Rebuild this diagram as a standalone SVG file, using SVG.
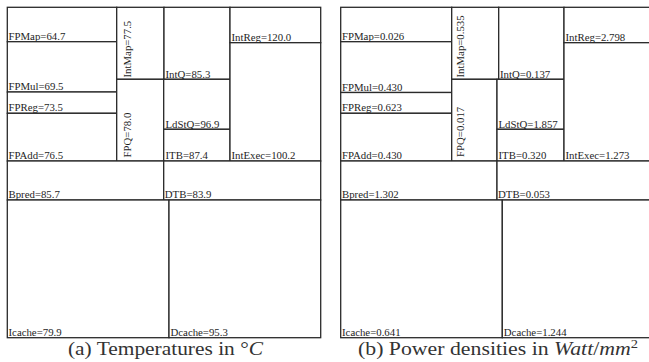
<svg xmlns="http://www.w3.org/2000/svg" width="649" height="362" viewBox="0 0 649 362">
<style>
.b{fill:#fff;stroke:#2a2a2a;stroke-width:1.3}
.l{font-family:"Liberation Serif","Times New Roman",serif;font-size:10.8px;fill:#1e1e1e}
.c{font-family:"Liberation Serif","Times New Roman",serif;font-size:18px;fill:#333}
.i{font-style:italic}
</style>
<rect width="649" height="362" fill="#fff"/>
<g id="panelA">
<g id="a-FPMap"><rect class="b" x="7.3" y="7.3" width="109.4" height="34.4"/><text class="l" x="8.5" y="39.8">FPMap=64.7</text></g>
<g id="a-FPMul"><rect class="b" x="7.3" y="41.7" width="109.4" height="50.3"/><text class="l" x="8.5" y="90">FPMul=69.5</text></g>
<g id="a-FPReg"><rect class="b" x="7.3" y="92" width="109.4" height="21.3"/><text class="l" x="8.5" y="111.3">FPReg=73.5</text></g>
<g id="a-FPAdd"><rect class="b" x="7.3" y="113.3" width="109.4" height="47.7"/><text class="l" x="8.5" y="159">FPAdd=76.5</text></g>
<g id="a-IntMap"><rect class="b" x="116.7" y="7.3" width="47.3" height="72"/><text class="l" transform="translate(131.3,77.5) rotate(-90)">IntMap=77.5</text></g>
<g id="a-FPQ"><rect class="b" x="116.7" y="79.3" width="47" height="81.7"/><text class="l" transform="translate(131.3,157.5) rotate(-90)">FPQ=78.0</text></g>
<g id="a-IntQ"><rect class="b" x="164" y="7.3" width="66" height="72"/><text class="l" x="165.5" y="77.5">IntQ=85.3</text></g>
<g id="a-LdStQ"><rect class="b" x="163.7" y="79.3" width="66.3" height="50"/><text class="l" x="165.5" y="127.5">LdStQ=96.9</text></g>
<g id="a-ITB"><rect class="b" x="163.7" y="129.3" width="66.3" height="31.7"/><text class="l" x="165.5" y="159">ITB=87.4</text></g>
<g id="a-IntReg"><rect class="b" x="230" y="7.3" width="90.7" height="35.4"/><text class="l" x="231.5" y="40.7">IntReg=120.0</text></g>
<g id="a-IntExec"><rect class="b" x="230" y="42.7" width="90.7" height="118.3"/><text class="l" x="231.5" y="159">IntExec=100.2</text></g>
<g id="a-Bpred"><rect class="b" x="7.3" y="161" width="156.4" height="39"/><text class="l" x="8.5" y="198">Bpred=85.7</text></g>
<g id="a-DTB"><rect class="b" x="163.7" y="161" width="157" height="39"/><text class="l" x="164.8" y="198">DTB=83.9</text></g>
<g id="a-Icache"><rect class="b" x="7.3" y="200" width="161.7" height="137.7"/><text class="l" x="8.5" y="336">Icache=79.9</text></g>
<g id="a-Dcache"><rect class="b" x="169" y="200" width="151.7" height="137.7"/><text class="l" x="170.5" y="336">Dcache=95.3</text></g>
<text class="c" x="68" y="354.5" textLength="195" lengthAdjust="spacingAndGlyphs">(a) Temperatures in °<tspan class="i">C</tspan></text>
</g>
<g id="panelB">
<g id="b-FPMap"><rect class="b" x="340.7" y="7.3" width="111" height="34.4"/><text class="l" x="342" y="39.8">FPMap=0.026</text></g>
<g id="b-FPMul"><rect class="b" x="340.7" y="41.7" width="111" height="50.8"/><text class="l" x="342" y="90.5">FPMul=0.430</text></g>
<g id="b-FPReg"><rect class="b" x="340.7" y="92.5" width="111" height="20.8"/><text class="l" x="342" y="111.3">FPReg=0.623</text></g>
<g id="b-FPAdd"><rect class="b" x="340.7" y="113.3" width="111" height="47.7"/><text class="l" x="342" y="159">FPAdd=0.430</text></g>
<g id="b-IntMap"><rect class="b" x="451.7" y="7.3" width="47" height="72"/><text class="l" transform="translate(464,77.5) rotate(-90)">IntMap=0.535</text></g>
<g id="b-FPQ"><rect class="b" x="451.7" y="79.3" width="45.3" height="81.7"/><text class="l" transform="translate(464,157) rotate(-90)">FPQ=0.017</text></g>
<g id="b-IntQ"><rect class="b" x="498.7" y="7.3" width="65.3" height="72"/><text class="l" x="500" y="77.5">IntQ=0.137</text></g>
<g id="b-LdStQ"><rect class="b" x="497" y="79.3" width="67" height="50"/><text class="l" x="498.5" y="127.5">LdStQ=1.857</text></g>
<g id="b-ITB"><rect class="b" x="497" y="129.3" width="67" height="31.7"/><text class="l" x="498.5" y="159">ITB=0.320</text></g>
<g id="b-IntReg"><rect class="b" x="564" y="7.3" width="90" height="35.4"/><text class="l" x="565.5" y="40.7">IntReg=2.798</text></g>
<g id="b-IntExec"><rect class="b" x="564" y="42.7" width="90" height="118.3"/><text class="l" x="565.5" y="159">IntExec=1.273</text></g>
<g id="b-Bpred"><rect class="b" x="340.7" y="161" width="156.3" height="39"/><text class="l" x="342" y="198">Bpred=1.302</text></g>
<g id="b-DTB"><rect class="b" x="497" y="161" width="157" height="39"/><text class="l" x="498" y="198">DTB=0.053</text></g>
<g id="b-Icache"><rect class="b" x="340.7" y="200" width="161.6" height="137.7"/><text class="l" x="342" y="336">Icache=0.641</text></g>
<g id="b-Dcache"><rect class="b" x="502.3" y="200" width="151.7" height="137.7"/><text class="l" x="503.8" y="336">Dcache=1.244</text></g>
<text class="c" x="358" y="354.5" textLength="280" lengthAdjust="spacingAndGlyphs">(b) Power densities in <tspan class="i">Watt</tspan>/<tspan class="i">mm</tspan><tspan font-size="12" dy="-7">2</tspan></text>
</g>
</svg>
